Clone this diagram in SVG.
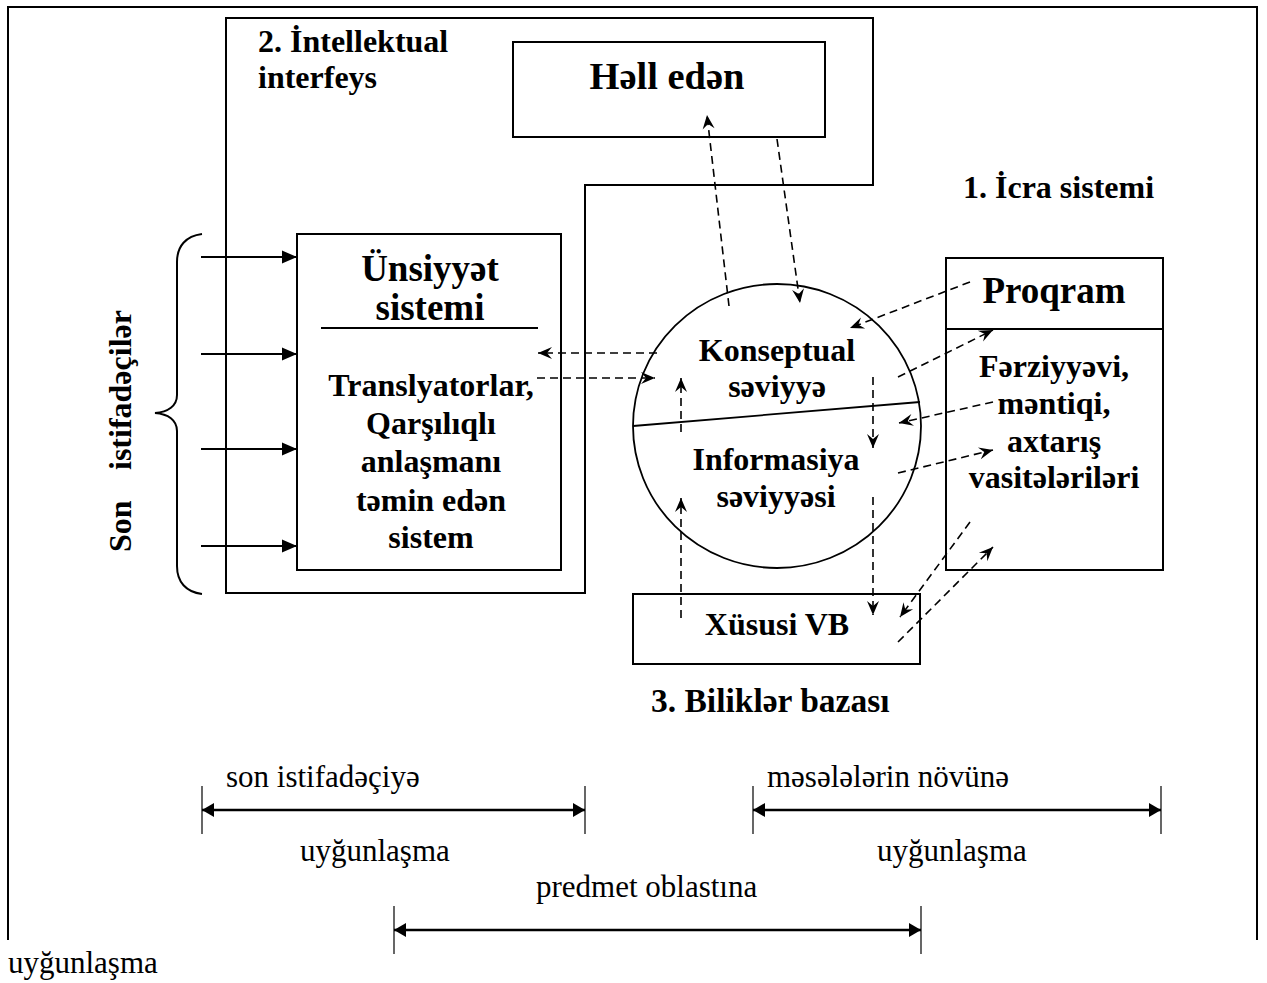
<svg xmlns="http://www.w3.org/2000/svg" width="1267" height="983" viewBox="0 0 1267 983">
  <style>
    .frame { fill: none; stroke: #000; stroke-width: 2; }
    .box { fill: #fff; stroke: #000; stroke-width: 2; }
    .t { font-family: "Liberation Serif", "Times New Roman", serif; fill: #000; }
    .b { font-weight: bold; font-size: 32px; }
    .big { font-weight: bold; font-size: 37px; }
    .r { font-size: 31px; }
    .mid { text-anchor: middle; }
    .dash { fill: none; stroke: #000; stroke-width: 1.6; stroke-dasharray: 8 5; marker-end: url(#barb); }
    .solid { fill: none; stroke: #000; stroke-width: 2; marker-end: url(#tri); }
    .span { fill: none; stroke: #000; stroke-width: 2.5; marker-start: url(#tri2); marker-end: url(#tri2); }
    .tick { stroke: #000; stroke-width: 1.2; }
  </style>
  <defs>
    <marker id="barb" viewBox="-15 -7 16 14" refX="0" refY="0" markerWidth="16" markerHeight="14" orient="auto" markerUnits="userSpaceOnUse">
      <path d="M0,0 L-14,-6 L-9,0 L-14,6 Z" fill="#000"/>
    </marker>
    <marker id="tri" viewBox="-15 -7 15 14" refX="0" refY="0" markerWidth="15" markerHeight="14" orient="auto" markerUnits="userSpaceOnUse">
      <path d="M0,0 L-15,-6.5 L-15,6.5 Z" fill="#000"/>
    </marker>
    <marker id="tri2" viewBox="-13 -7 13 14" refX="0" refY="0" markerWidth="13" markerHeight="14" orient="auto-start-reverse" markerUnits="userSpaceOnUse">
      <path d="M0,0 L-12,-7 L-12,7 Z" fill="#000"/>
    </marker>
  </defs>

  <!-- outer page frame, open at the bottom -->
  <path class="frame" d="M8,940 V7 H1257 V940"/>

  <!-- 2. intellectual interface region -->
  <g id="intellektual">
    <path class="frame" d="M226,18 H873 V185 H585 V593 H226 Z"/>
    <text class="t b" x="258" y="52">2. İntellektual</text>
    <text class="t b" x="258" y="88">interfeys</text>
  </g>

  <!-- solver -->
  <g id="hell-eden">
    <rect class="box" x="513" y="42" width="312" height="95"/>
    <text class="t big mid" x="667" y="89" style="font-size:38.5px">Həll edən</text>
  </g>

  <!-- communication system -->
  <g id="unsiyyet">
    <rect class="box" x="297" y="234" width="264" height="336"/>
    <text class="t big mid" x="430" y="281">Ünsiyyət</text>
    <text class="t big mid" x="430" y="320">sistemi</text>
    <line x1="321" y1="328" x2="538" y2="328" stroke="#000" stroke-width="2"/>
    <text class="t b mid" x="431" y="396">Translyatorlar,</text>
    <text class="t b mid" x="431" y="434">Qarşılıqlı</text>
    <text class="t b mid" x="431" y="472">anlaşmanı</text>
    <text class="t b mid" x="431" y="511">təmin edən</text>
    <text class="t b mid" x="431" y="548">sistem</text>
  </g>

  <!-- end users -->
  <g id="son-istifadeciler">
    <path class="frame" d="M202,234 C186,236 177,246 177,262 V395 C177,406 168,412 155,413 C168,414 177,420 177,431 V566 C177,582 186,592 202,594"/>
    <text class="t b" transform="translate(131,552) rotate(-90)">Son<tspan x="82">istifadəçilər</tspan></text>
  </g>

  <!-- 1. execution system -->
  <g id="icra">
    <text class="t b" x="963" y="198">1. İcra sistemi</text>
  </g>

  <!-- program block -->
  <g id="proqram">
    <rect class="box" x="946" y="258" width="217" height="312"/>
    <line x1="946" y1="329" x2="1163" y2="329" stroke="#000" stroke-width="2"/>
    <text class="t big mid" x="1054" y="303">Proqram</text>
    <text class="t b mid" x="1054" y="377">Fərziyyəvi,</text>
    <text class="t b mid" x="1054" y="414">məntiqi,</text>
    <text class="t b mid" x="1054" y="452">axtarış</text>
    <text class="t b mid" x="1054" y="488">vasitələriləri</text>
  </g>

  <!-- knowledge levels -->
  <g id="seviyyeler">
    <ellipse cx="777" cy="426" rx="144" ry="142" fill="none" stroke="#000" stroke-width="1.8"/>
    <line x1="633" y1="426" x2="920" y2="402" stroke="#000" stroke-width="1.8"/>
    <text class="t b mid" x="777" y="361">Konseptual</text>
    <text class="t b mid" x="777" y="397">səviyyə</text>
    <text class="t b mid" x="776" y="470">Informasiya</text>
    <text class="t b mid" x="776" y="507">səviyyəsi</text>
  </g>

  <!-- special knowledge base -->
  <g id="xususi-vb">
    <rect class="box" x="633" y="594" width="287" height="70"/>
    <text class="t b mid" x="777" y="635">Xüsusi VB</text>
  </g>

  <!-- 3. knowledge base -->
  <g id="bilikler">
    <text class="t b" x="651" y="712" style="font-size:33.5px">3. Biliklər bazası</text>
  </g>

  <!-- connectors -->
  <g id="connectors">
    <line class="solid" x1="201" y1="257" x2="297" y2="257"/>
    <line class="solid" x1="201" y1="354" x2="297" y2="354"/>
    <line class="solid" x1="201" y1="449" x2="297" y2="449"/>
    <line class="solid" x1="201" y1="546" x2="297" y2="546"/>

    <line class="dash" x1="729" y1="306" x2="707" y2="115"/>
    <line class="dash" x1="777" y1="139" x2="800" y2="303"/>
    <line class="dash" x1="657" y1="353" x2="538" y2="353"/>
    <line class="dash" x1="537" y1="378" x2="655" y2="378"/>
    <line class="dash" x1="681" y1="432" x2="681" y2="378"/>
    <line class="dash" x1="681" y1="618" x2="681" y2="498"/>
    <line class="dash" x1="873" y1="377" x2="873" y2="448"/>
    <line class="dash" x1="873" y1="497" x2="873" y2="615"/>
    <line class="dash" x1="970" y1="282" x2="850" y2="328"/>
    <line class="dash" x1="898" y1="377" x2="993" y2="330"/>
    <line class="dash" x1="993" y1="402" x2="899" y2="423"/>
    <line class="dash" x1="898" y1="473" x2="993" y2="450"/>
    <line class="dash" x1="970" y1="522" x2="900" y2="617"/>
    <line class="dash" x1="898" y1="642" x2="993" y2="547"/>
  </g>

  <!-- adaptation spans -->
  <g id="uygunlasma">
    <line class="tick" x1="202" y1="786" x2="202" y2="834"/>
    <line class="tick" x1="585" y1="786" x2="585" y2="834"/>
    <line class="span" x1="202" y1="810" x2="585" y2="810"/>
    <text class="t r" x="226" y="787">son istifadəçiyə</text>
    <text class="t r" x="300" y="861">uyğunlaşma</text>

    <line class="tick" x1="753" y1="786" x2="753" y2="834"/>
    <line class="tick" x1="1161" y1="786" x2="1161" y2="834"/>
    <line class="span" x1="753" y1="810" x2="1161" y2="810"/>
    <text class="t r" x="767" y="787">məsələlərin növünə</text>
    <text class="t r" x="877" y="861">uyğunlaşma</text>

    <line class="tick" x1="394" y1="906" x2="394" y2="954"/>
    <line class="tick" x1="921" y1="906" x2="921" y2="954"/>
    <line class="span" x1="394" y1="930" x2="921" y2="930"/>
    <text class="t r" x="536" y="897">predmet oblastına</text>
    <text class="t r" x="8" y="973">uyğunlaşma</text>
  </g>
</svg>
